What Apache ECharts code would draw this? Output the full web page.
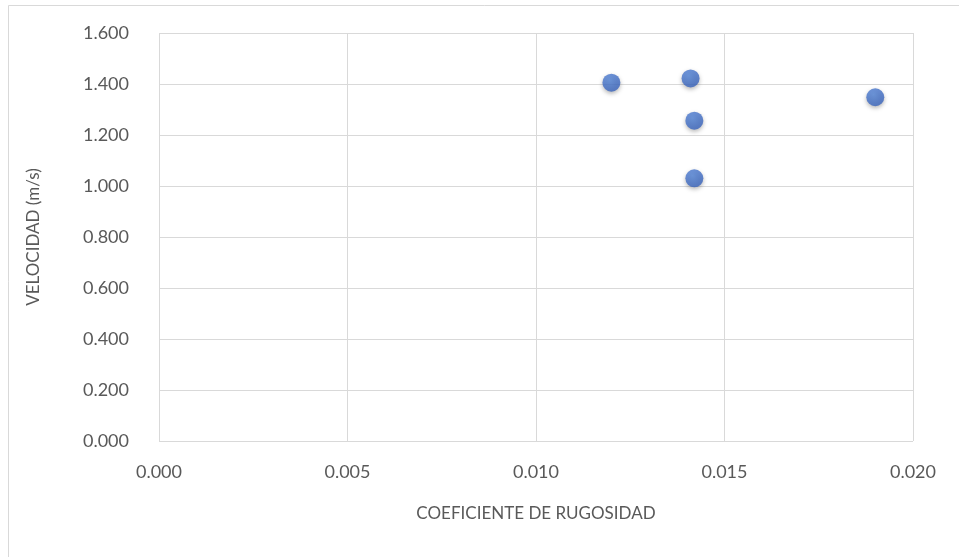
<!DOCTYPE html>
<html>
<head>
<meta charset="utf-8">
<script src="https://cdn.jsdelivr.net/npm/echarts@6/dist/echarts.min.js"></script>
<style>
  html, body { margin: 0; padding: 0; background: #fff; }
  #chart { width: 959px; height: 557px; }
</style>
</head>
<body>
<div id="chart"></div>
<script>
// Roughness coefficient vs. flow velocity
const rugosidad = [0.0120, 0.0141, 0.0142, 0.0142, 0.0190];
const velocidad = [1.405, 1.422, 1.256, 1.030, 1.348];
const xTitle = 'COEFICIENTE DE RUGOSIDAD';
const yTitle = 'VELOCIDAD (m/s)';

const points = rugosidad.map((x, i) => [x, velocidad[i]]);

const chart = echarts.init(document.getElementById('chart'), null, { renderer: 'canvas' });
const fontFamily = 'Lato, "Open Sans", sans-serif';
const textColor = '#595959';
const gridColor = '#d9d9d9';

chart.setOption({
  backgroundColor: '#ffffff',
  animation: false,
  graphic: [{
    type: 'rect',
    shape: { x: 8.5, y: 5.5, width: 960, height: 560 },
    style: { fill: 'none', stroke: '#d9d9d9', lineWidth: 1 },
    silent: true
  }],
  grid: { left: 159, right: 46, top: 33, bottom: 116 },
  xAxis: {
    type: 'value',
    min: 0, max: 0.020, interval: 0.005,
    name: xTitle,
    nameLocation: 'middle',
    nameGap: 64,
    nameTextStyle: { color: textColor, fontSize: 17, fontFamily },
    axisLine: { show: false },
    axisTick: { show: false },
    axisLabel: {
      color: textColor, fontSize: 18, fontFamily, margin: 22,
      formatter: v => v.toFixed(3)
    },
    splitLine: { show: true, lineStyle: { color: gridColor, width: 1 } }
  },
  yAxis: {
    type: 'value',
    min: 0, max: 1.6, interval: 0.2,
    name: yTitle,
    nameLocation: 'middle',
    nameGap: 117,
    nameTextStyle: { color: textColor, fontSize: 17, fontFamily },
    axisLine: { show: false },
    axisTick: { show: false },
    axisLabel: {
      color: textColor, fontSize: 18, fontFamily, margin: 30,
      formatter: v => v.toFixed(3)
    },
    splitLine: { show: true, lineStyle: { color: gridColor, width: 1 } }
  },
  series: [{
    type: 'scatter',
    data: points,
    symbol: 'circle',
    symbolSize: 18,
    itemStyle: {
      color: new echarts.graphic.RadialGradient(0.4, 0.35, 0.65, [
        { offset: 0, color: '#5587db' },
        { offset: 1, color: '#3964bd' }
      ]),
      shadowColor: 'rgba(0,0,0,0.35)',
      shadowBlur: 4,
      shadowOffsetY: 2
    }
  }]
});
</script>
</body>
</html>
